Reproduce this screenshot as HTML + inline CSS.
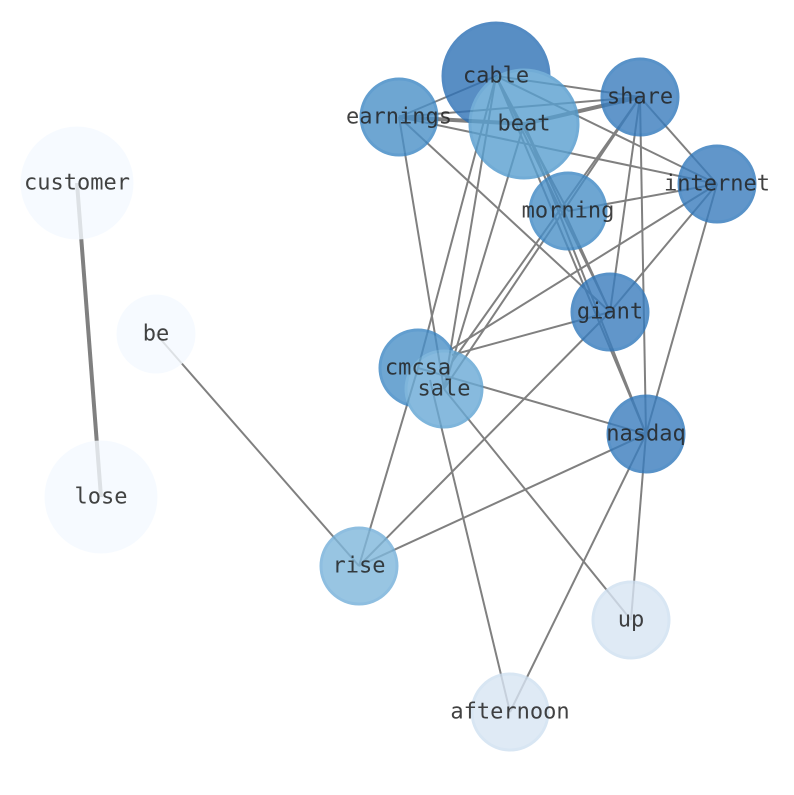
<!DOCTYPE html>
<html><head><style>html,body{margin:0;padding:0;background:#fff;}</style></head>
<body>
<svg width="794" height="790" viewBox="0 0 794 790" xmlns="http://www.w3.org/2000/svg">
<g stroke="#808080" stroke-width="2" fill="none">
<line x1="496" y1="76" x2="399" y2="117"/>
<line x1="496" y1="76" x2="640" y2="97"/>
<line x1="496" y1="76" x2="717" y2="184"/>
<line x1="496" y1="76" x2="610" y2="312"/>
<line x1="496" y1="76" x2="646" y2="434"/>
<line x1="496" y1="76" x2="418" y2="368"/>
<line x1="496" y1="76" x2="444" y2="389"/>
<line x1="496" y1="76" x2="568" y2="211"/>
<line x1="524" y1="124" x2="399" y2="117" stroke-width="4"/>
<line x1="524" y1="124" x2="640" y2="97" stroke-width="4"/>
<line x1="524" y1="124" x2="444" y2="389"/>
<line x1="524" y1="124" x2="610" y2="312"/>
<line x1="524" y1="124" x2="646" y2="434"/>
<line x1="399" y1="117" x2="640" y2="97"/>
<line x1="399" y1="117" x2="717" y2="184"/>
<line x1="399" y1="117" x2="610" y2="312"/>
<line x1="399" y1="117" x2="444" y2="389"/>
<line x1="640" y1="97" x2="444" y2="389"/>
<line x1="640" y1="97" x2="452" y2="362"/>
<line x1="640" y1="97" x2="610" y2="312"/>
<line x1="640" y1="97" x2="646" y2="434"/>
<line x1="640" y1="97" x2="717" y2="184"/>
<line x1="717" y1="184" x2="568" y2="211"/>
<line x1="717" y1="184" x2="450" y2="350"/>
<line x1="717" y1="184" x2="610" y2="312"/>
<line x1="717" y1="184" x2="646" y2="434"/>
<line x1="610" y1="312" x2="452" y2="355"/>
<line x1="610" y1="312" x2="359" y2="566"/>
<line x1="418" y1="368" x2="646" y2="434"/>
<line x1="418" y1="368" x2="359" y2="566"/>
<line x1="444" y1="389" x2="631" y2="620"/>
<line x1="430" y1="380" x2="510" y2="712"/>
<line x1="646" y1="434" x2="359" y2="566"/>
<line x1="646" y1="434" x2="510" y2="712"/>
<line x1="646" y1="434" x2="631" y2="620"/>
<line x1="156" y1="334" x2="359" y2="566"/>
<line x1="77" y1="183" x2="101" y2="497" stroke-width="4"/>
</g>
<g stroke-width="3" opacity="0.8">
<circle cx="77" cy="183" r="55" fill="#f5faff" stroke="#f5faff"/>
<circle cx="101" cy="497" r="55" fill="#f5faff" stroke="#f5faff"/>
<circle cx="156" cy="334" r="38" fill="#f5faff" stroke="#f5faff"/>
<circle cx="631" cy="620" r="38" fill="#d8e5f3" stroke="#cfe0f1"/>
<circle cx="510" cy="712" r="38" fill="#d8e5f3" stroke="#cfe0f1"/>
<circle cx="359" cy="566" r="38" fill="#7fb7dc" stroke="#72afd9"/>
<circle cx="399" cy="117" r="38" fill="#4a90c8" stroke="#3b86c4"/>
<circle cx="496" cy="76" r="53" fill="#2f72b6" stroke="#2a6fb5"/>
<circle cx="524" cy="124" r="54" fill="#59a0d0" stroke="#4f98cc"/>
<circle cx="640" cy="97" r="38" fill="#3a7dbe" stroke="#2f77bb"/>
<circle cx="717" cy="184" r="38" fill="#3a7dbe" stroke="#2f77bb"/>
<circle cx="568" cy="211" r="38" fill="#4a90c8" stroke="#3b86c4"/>
<circle cx="610" cy="312" r="38" fill="#3a7dbe" stroke="#2f77bb"/>
<circle cx="418" cy="368" r="38" fill="#4a90c8" stroke="#3b86c4"/>
<circle cx="444" cy="389" r="38" fill="#6aaad6" stroke="#5ea3d3"/>
<circle cx="646" cy="434" r="38" fill="#3a7dbe" stroke="#2f77bb"/>
</g>
<g font-family="'DejaVu Sans Mono','Liberation Mono',monospace" font-size="22" fill="#222" text-anchor="middle" dominant-baseline="central" opacity="0.85">
<text x="496" y="76">cable</text>
<text x="524" y="124">beat</text>
<text x="640" y="97">share</text>
<text x="399" y="117">earnings</text>
<text x="77" y="183">customer</text>
<text x="717" y="184">internet</text>
<text x="568" y="211">morning</text>
<text x="156" y="334">be</text>
<text x="610" y="312">giant</text>
<text x="418" y="368">cmcsa</text>
<text x="444" y="389">sale</text>
<text x="646" y="434">nasdaq</text>
<text x="101" y="497">lose</text>
<text x="359" y="566">rise</text>
<text x="631" y="620">up</text>
<text x="510" y="712">afternoon</text>
</g>
</svg>
</body></html>
